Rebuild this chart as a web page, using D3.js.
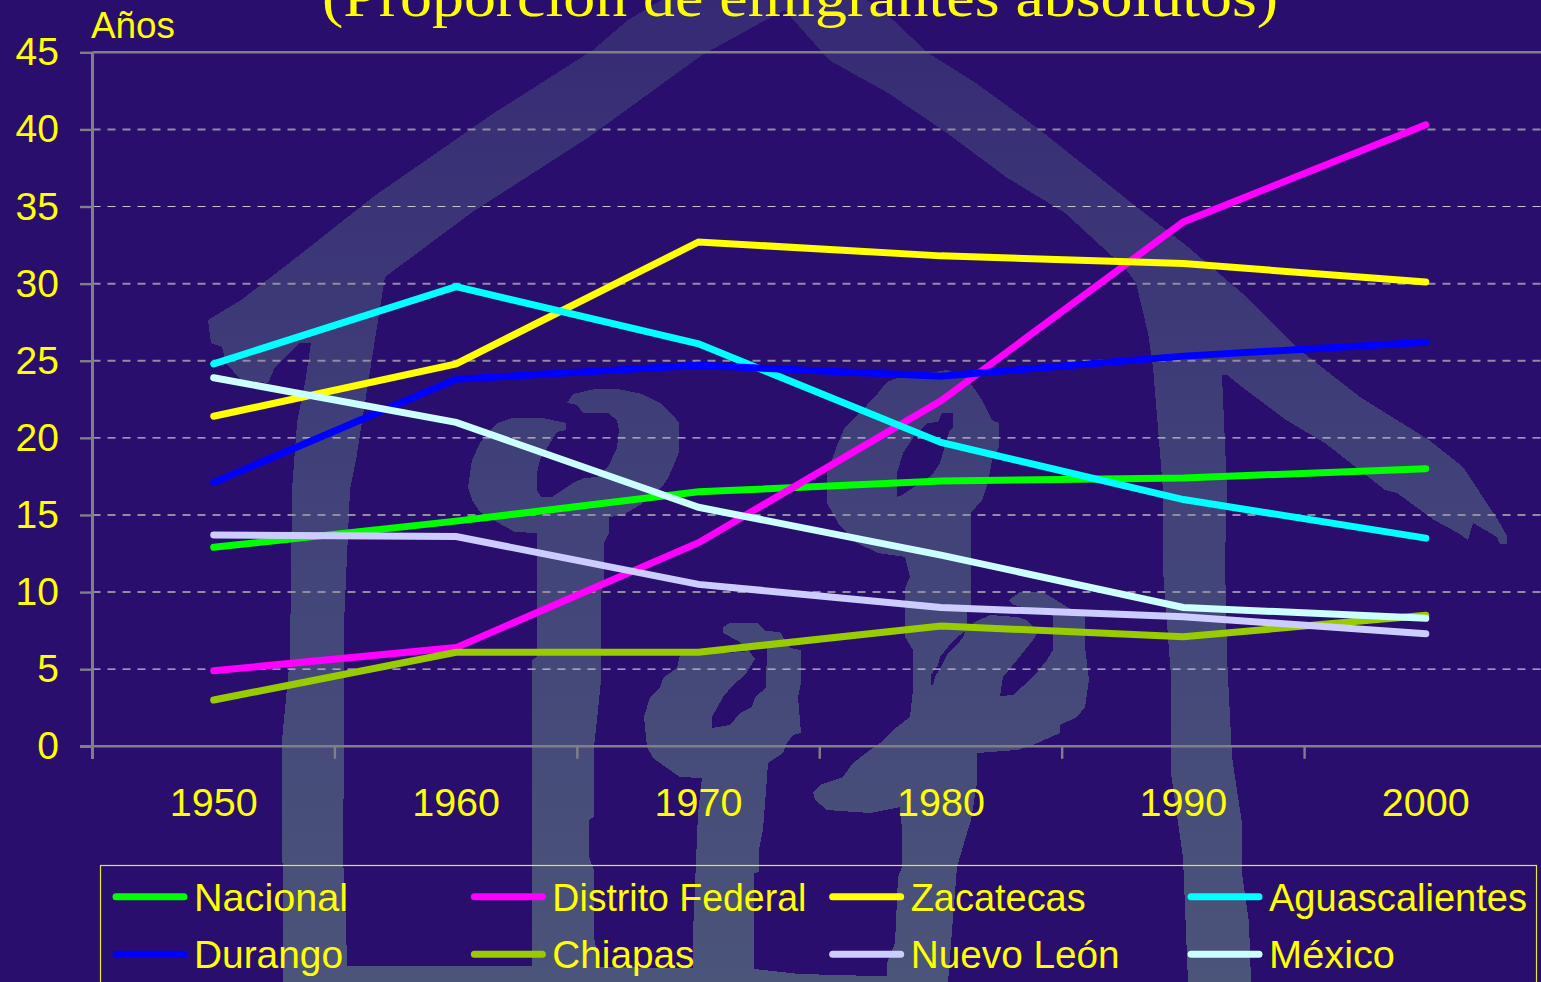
<!DOCTYPE html>
<html><head><meta charset="utf-8">
<script src="https://cdn.jsdelivr.net/npm/d3@7"></script>
<style>html,body{margin:0;padding:0;background:#290e6e;overflow:hidden}svg{display:block}text{font-family:"Liberation Sans",Arial,sans-serif;fill:#ffff00}</style>
</head><body><svg id="c" width="1541" height="982"></svg>
<script>
const years = ["1950","1960","1970","1980","1990","2000"];
const yTicks = [0,5,10,15,20,25,30,35,40,45];
const seriesNames = ["Nacional","Distrito Federal","Zacatecas","Aguascalientes","Durango","Chiapas","Nuevo León","México"];
const seriesColors = ["#00ff00","#ff00ff","#ffff00","#00ffff","#0000ff","#99cc00","#ccccff","#ccffff"];
const legendTextWidths = [154,254,175,258,149,142,209,126];
const nacional = [12.9,14.6,16.5,17.2,17.4,18.0];
const distritoFederal = [4.9,6.4,13.2,22.4,34.0,40.3];
const zacatecas = [21.4,24.8,32.7,31.8,31.3,30.1];
const aguascalientes = [24.8,29.8,26.1,19.7,16.0,13.5];
const durango = [17.1,23.8,24.7,24.0,25.3,26.2];
const chiapas = [3.0,6.1,6.1,7.8,7.1,8.5];
const nuevoLeon = [13.7,13.6,10.5,9.0,8.4,7.3];
const mexico = [23.9,21.0,15.5,12.4,9.0,8.3];
const allSeries = [nacional,distritoFederal,zacatecas,aguascalientes,durango,chiapas,nuevoLeon,mexico];

const svg = d3.select("#c");
const defs = svg.append("defs");
const grad = defs.append("linearGradient").attr("id","wm").attr("gradientUnits","userSpaceOnUse")
  .attr("x1",0).attr("y1",0).attr("x2",0).attr("y2",982);
grad.append("stop").attr("offset",0).attr("stop-color","#362a74");
grad.append("stop").attr("offset",0.5).attr("stop-color","#414279");
grad.append("stop").attr("offset",1).attr("stop-color","#4b5479");

// Background watermark (decorative house-and-letters logo)
const wmShapes = [
 // roof, outer posts
 "M208,320 241,300 297,257 373,197 491,115 593,50 628,20 670,-5 860,-5 893,20 928,53 976,83 1040,130 1124,197 1188,247 1242,293 1296,347 1360,397 1429,440 1463,467 1498,520 1507,536 1507,544 1500,544 1497,537 1473,523 1468,540 1458,533 1434,520 1397,493 1385,490 1325,443 1286,420 1242,387 1227,375 1222,375 1227,490 1225,560 1227,657 1232,757 1235,777 1242,823 1242,873 1249,923 1251,982 1188,982 1183,857 1171,773 1171,677 1163,570 1163,490 1153,367 1148,333 1136,283 1124,267 1065,213 1006,177 947,133 888,93 829,60 791,17 785,10 775,15 702,55 589,137 471,213 385,277 376,333 356,460 350,490 344,623 344,746 343,857 346,923 347,966 529,966 532,980 283,982 282,740 290,657 292,490 297,423 305,383 311,343 300,343 275,367 268,383 241,380 226,363 222,347 211,343Z",
 // bottom bar
 "M340,966 597,966 597,967 754,969 800,974 948,978 948,982 283,982 283,973Z",
 // second letter
 "M567,403 573,394 595,389 618,389 642,394 660,403 673,415 679,423 679,452 673,467 668,478 662,487 640,505 623,515 609,517 609,533 604,543 604,580 601,593 601,680 598,710 594,747 594,817 589,820 589,857 594,870 594,937 597,953 597,982 532,982 532,660 537,657 537,533 515,532 497,522 480,512 472,500 468,487 472,460 480,443 497,423 513,418 543,418 566,423 566,430 557,432 550,443 540,460 537,473 537,490 541,497 552,497 573,483 584,478 597,477 608,467 617,448 619,430 617,420 608,413 583,413 577,405Z",
 // third letter with hook
 "M723,627 730,623 758,623 765,631 780,632 790,648 801,650 801,683 798,697 801,733 793,735 787,743 783,753 768,763 767,777 763,830 759,850 759,872 754,873 754,982 693,982 693,933 698,813 702,778 680,777 667,768 653,758 647,747 644,717 650,697 660,688 663,678 677,668 680,655 745,652 740,642 723,633Z M767,645 745,645 755,659 745,675 733,685 723,697 712,717 712,728 730,725 740,713 752,707 755,697 766,688Z",
 // fourth letter with hand
 "M897,378 947,370 967,378 982,400 992,420 999,423 999,447 992,460 988,483 982,500 971,513 971,610 967,612 967,630 957,637 948,647 940,657 938,665 931,675 931,685 933,685 935,677 942,665 948,653 957,645 963,637 966,630 975,622 990,615 1017,617 1027,620 1038,632 1033,640 1017,660 1003,677 1000,696 1013,695 1033,677 1047,660 1053,650 1053,616 1040,610 1013,605 1009,600 1020,592 1043,592 1053,598 1067,607 1085,617 1085,647 1089,680 1085,707 1077,717 1060,725 1060,733 1033,745 1017,750 977,753 977,783 971,820 967,833 962,850 957,867 948,982 887,982 887,963 895,943 898,877 902,867 902,830 900,807 870,813 827,810 815,800 813,792 820,785 843,777 853,763 870,750 880,743 897,727 910,717 913,690 913,650 905,637 905,588 910,577 905,557 878,553 855,542 838,523 827,503 827,473 838,443 845,427 867,405 878,393 887,382Z M942,413 953,413 953,427 949,432 940,463 932,475 902,495 897,497 897,473 903,453 913,438 927,423 938,422Z"
];
svg.append("rect").attr("width",1541).attr("height",982).attr("fill","#290e6e");
svg.append("g").attr("shape-rendering","crispEdges").selectAll("path").data(wmShapes).join("path")
  .attr("d",d=>d).attr("fill","url(#wm)").attr("fill-rule","evenodd");

const x = d3.scaleBand().domain(years).range([92.5,1547]);
const y = d3.scaleLinear().domain([0,45]).range([746.3,52.3]);
const AXIS = "#807f88";

// grid
const thinGrid = [5,20,35];
svg.append("g").selectAll("line").data(yTicks.filter(v=>v>0&&v<45)).join("line")
  .attr("x1",92.5).attr("x2",1541).attr("y1",d=>y(d)).attr("y2",d=>y(d))
  .attr("stroke",d=>thinGrid.includes(d)?"#c4c2d0":"#8f8d9f")
  .attr("stroke-width",d=>thinGrid.includes(d)?1.2:2).attr("stroke-dasharray","8 7");
svg.append("line").attr("x1",92.5).attr("x2",1541).attr("y1",y(45)).attr("y2",y(45))
  .attr("stroke",AXIS).attr("stroke-width",2.4);

// y axis
const gy = svg.append("g").attr("transform","translate(92.5,0)")
  .call(d3.axisLeft(y).tickValues(yTicks).tickSize(12.5).tickPadding(21));
gy.selectAll("line").attr("stroke",AXIS).attr("stroke-width",2.4);
gy.select(".domain").attr("stroke",AXIS).attr("stroke-width",3).attr("d","M0,52.3V759");
gy.selectAll("text").style("font-size","39px").style("font-family",'"Liberation Sans"').attr("fill","#ffff00");

// x axis
const gx = svg.append("g").attr("transform","translate(0,746.3)")
  .call(d3.axisBottom(x).tickSize(0).tickPadding(0));
gx.select(".domain").attr("stroke",AXIS).attr("stroke-width",2.4).attr("d","M80,0H1541");
gx.selectAll("text").attr("y",70).attr("dy",0).style("font-size","39.5px").style("font-family",'"Liberation Sans"').attr("fill","#ffff00");
gx.selectAll("g.edge").data(years.slice(1)).join("g").attr("class","edge").append("line")
  .attr("x1",d=>x(d)).attr("x2",d=>x(d)).attr("y1",0).attr("y2",12.5)
  .attr("stroke",AXIS).attr("stroke-width",2.4);

// lines
const line = d3.line().x((d,i)=>x(years[i])+x.bandwidth()/2).y(d=>y(d));
svg.append("g").selectAll("path").data(allSeries).join("path")
  .attr("d",line).attr("fill","none").attr("stroke",(d,i)=>seriesColors[i])
  .attr("stroke-width",7).attr("stroke-linecap","round").attr("stroke-linejoin","miter");

// title
svg.append("text").attr("x",322).attr("y",16).attr("textLength",956).attr("lengthAdjust","spacingAndGlyphs")
  .style("font-family",'"Liberation Serif"').style("font-size","58px").text("(Proporción de emigrantes absolutos)");
svg.append("text").attr("x",91).attr("y",38).attr("textLength",84).attr("lengthAdjust","spacingAndGlyphs")
  .style("font-size","36px").text("Años");

// legend
svg.append("rect").attr("x",100.5).attr("y",865.5).attr("width",1436).attr("height",160)
  .attr("fill","none").attr("stroke","#e8e830").attr("stroke-width",1.2);
const cols = d3.scaleLinear().domain([0,3]).range([113,1188]);
const rows = d3.scaleLinear().domain([0,1]).range([896.7,954.3]);
const lg = svg.append("g").selectAll("g").data(seriesNames).join("g")
  .attr("transform",(d,i)=>`translate(${cols(i%4)},${rows(Math.floor(i/4))})`);
lg.append("line").attr("x1",3).attr("x2",71).attr("stroke",(d,i)=>seriesColors[i])
  .attr("stroke-width",7).attr("stroke-linecap","round");
lg.append("text").attr("x",81).attr("y",14).attr("textLength",(d,i)=>legendTextWidths[i]).attr("lengthAdjust","spacingAndGlyphs")
  .style("font-size","39px").text(d=>d);
</script></body></html>
